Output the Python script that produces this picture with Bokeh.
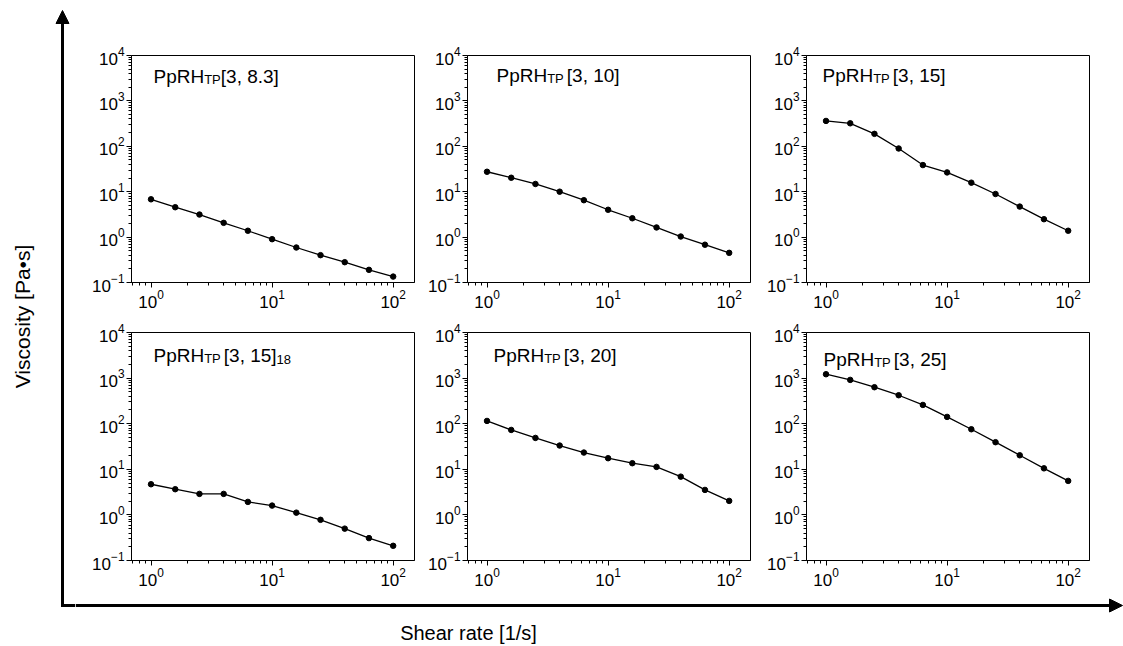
import math
from bokeh.plotting import figure
from bokeh.layouts import row, column
from bokeh.models import Range1d, Label, Arrow, NormalHead, FixedTicker
from bokeh.embed import file_html
from bokeh.resources import INLINE

# ---------------- data ----------------
shear_rate = [1.0, 1.585, 2.512, 3.981, 6.310, 10.0, 15.85, 25.12, 39.81, 63.10, 100.0]

visc_3_8_3 = [6.8, 4.55, 3.14, 2.06, 1.38, 0.90, 0.59, 0.40, 0.28, 0.19, 0.135]
visc_3_10 = [27.5, 20.3, 14.8, 10.0, 6.5, 4.0, 2.6, 1.63, 1.03, 0.68, 0.45]
visc_3_15 = [362, 321, 188, 89.5, 38.6, 26.6, 15.8, 8.9, 4.7, 2.48, 1.38]
visc_3_15_18 = [4.7, 3.66, 2.89, 2.89, 1.93, 1.60, 1.12, 0.78, 0.50, 0.31, 0.21]
visc_3_20 = [115, 73, 48.8, 33.2, 23.3, 17.5, 13.6, 11.3, 6.9, 3.53, 2.03]
visc_3_25 = [1216, 914, 631, 421, 258, 141, 75.6, 39.3, 20.3, 10.5, 5.57]

series = [visc_3_8_3, visc_3_10, visc_3_15, visc_3_15_18, visc_3_20, visc_3_25]

title_main = "PpRH"
title_sub = "TP"
title_params = ["[3, 8.3]", "[3, 10]", "[3, 15]", "[3, 15]", "[3, 20]", "[3, 25]"]
title_tail_sub = ["", "", "", "18", "", ""]

x_major = [1, 10, 100]
x_minor = [0.7, 0.8, 0.9, 2, 3, 4, 5, 6, 7, 8, 9, 20, 30, 40, 50, 60, 70, 80, 90]
y_major = [0.1, 1, 10, 100, 1000, 10000]
y_minor = [m * d for d in [0.1, 1, 10, 100, 1000] for m in range(2, 10)]

x_label = "Shear rate [1/s]"
y_label = "Viscosity [Pa\u2022s]"

# ---------------- layout ----------------
FONT = "Liberation Sans"
FRAME_W, FRAME_H = 283, 228
LEFT_W = 75
col_borders = [(56, 6), (47, 14), (42, 34)]
row_borders = [(55, 27), (22, 30)]
BOTTOM_H = 56
TOTAL_W, TOTAL_H = 1123, 646

# title placement: (x offset from frame left, baseline below frame top, gap before bracket)
title_pos = [(22, 22, 0), (29, 21, 3), (16, 21, 3), (22, 23, 3), (26, 23, 3), (17, 27, 3)]
MAIN_FS, SUB_FS = 19, 13

ARIAL = {"P": 667, "p": 556, "R": 722, "H": 722, "T": 611, "[": 278, "]": 278,
         ",": 278, " ": 278, ".": 278}


def text_w(s, fs):
    return sum(ARIAL.get(c, 556) for c in s) * fs / 1000.0


def style_axis(ax):
    ax.axis_line_color = "black"
    ax.axis_line_width = 1
    ax.major_tick_line_color = "black"
    ax.minor_tick_line_color = "black"
    ax.major_tick_out = 5
    ax.major_tick_in = 0
    ax.minor_tick_out = 3
    ax.minor_tick_in = 0
    ax.major_label_text_font = FONT
    ax.major_label_text_font_size = "17px"
    ax.major_label_text_color = "black"
    ax.major_label_standoff = 2


def make_panel(idx):
    r, c = divmod(idx, 3)
    bl, br = col_borders[c]
    bt, bb = row_borders[r]
    p = figure(width=bl + FRAME_W + br, height=bt + FRAME_H + bb,
               x_axis_type="log", y_axis_type="log",
               x_range=Range1d(0.69, 150), y_range=Range1d(0.1, 10000),
               output_backend="svg", toolbar_location=None,
               min_border_left=bl, min_border_right=br,
               min_border_top=bt, min_border_bottom=bb)
    p.grid.visible = False
    p.outline_line_color = "black"
    p.outline_line_width = 1
    p.outline_line_alpha = 1
    p.xaxis.ticker = FixedTicker(ticks=x_major, minor_ticks=x_minor)
    p.yaxis.ticker = FixedTicker(ticks=y_major, minor_ticks=y_minor)
    style_axis(p.xaxis[0])
    style_axis(p.yaxis[0])

    ys = series[idx]
    p.line(shear_rate, ys, line_color="black", line_width=1.3)
    p.scatter(shear_rate, ys, size=5.5, fill_color="black", line_color="black")

    ox, base, gap = title_pos[idx]
    y0 = FRAME_H - base
    x = ox
    p.add_layout(Label(x=x, y=y0, x_units="screen", y_units="screen", text=title_main,
                       text_font=FONT, text_font_size=f"{MAIN_FS}px", text_color="black",
                       text_baseline="alphabetic", text_align="left"))
    x += text_w(title_main, MAIN_FS)
    p.add_layout(Label(x=x, y=y0 - 3, x_units="screen", y_units="screen", text=title_sub,
                       text_font=FONT, text_font_size=f"{SUB_FS}px", text_color="black",
                       text_baseline="alphabetic", text_align="left"))
    x += text_w(title_sub, SUB_FS) + gap
    p.add_layout(Label(x=x, y=y0, x_units="screen", y_units="screen", text=title_params[idx],
                       text_font=FONT, text_font_size=f"{MAIN_FS}px", text_color="black",
                       text_baseline="alphabetic", text_align="left"))
    x += text_w(title_params[idx], MAIN_FS)
    if title_tail_sub[idx]:
        p.add_layout(Label(x=x, y=y0 - 4, x_units="screen", y_units="screen",
                           text=title_tail_sub[idx], text_font=FONT,
                           text_font_size=f"{SUB_FS}px", text_color="black",
                           text_baseline="alphabetic", text_align="left"))
    return p


panels = [make_panel(i) for i in range(6)]

# left strip with vertical arrow and y label (coordinates = page pixels)
left = figure(width=LEFT_W, height=TOTAL_H, x_range=Range1d(0, LEFT_W),
              y_range=Range1d(TOTAL_H, 0), output_backend="svg", toolbar_location=None,
              x_axis_location=None, y_axis_location=None, min_border=0,
              outline_line_color=None)
left.grid.visible = False
left.add_layout(Arrow(x_start=62, y_start=606.5, x_end=62, y_end=10, line_width=3,
                      line_color="black",
                      end=NormalHead(size=13, fill_color="black", line_color="black")))
left.add_layout(Arrow(x_start=60.5, y_start=605, x_end=LEFT_W, y_end=605, line_width=3,
                      line_color="black", end=None))
left.add_layout(Label(x=22, y=316, text=y_label, angle=math.pi / 2, text_font=FONT,
                      text_font_size="21px", text_color="black", text_align="center",
                      text_baseline="middle"))

# bottom strip with horizontal arrow and x label
bottom = figure(width=TOTAL_W - LEFT_W, height=BOTTOM_H, x_range=Range1d(LEFT_W, TOTAL_W),
                y_range=Range1d(TOTAL_H, TOTAL_H - BOTTOM_H), output_backend="svg",
                toolbar_location=None, x_axis_location=None, y_axis_location=None,
                min_border=0, outline_line_color=None)
bottom.grid.visible = False
bottom.add_layout(Arrow(x_start=LEFT_W, y_start=605, x_end=TOTAL_W - 1, y_end=605,
                        line_width=3, line_color="black",
                        end=NormalHead(size=13, fill_color="black", line_color="black")))
bottom.add_layout(Label(x=468, y=632, text=x_label, text_font=FONT, text_font_size="20px",
                        text_color="black", text_align="center", text_baseline="middle"))

layout = row(left, column(row(*panels[:3]), row(*panels[3:]), bottom))

with open("out.html", "w") as f:
    f.write(file_html(layout, INLINE))
